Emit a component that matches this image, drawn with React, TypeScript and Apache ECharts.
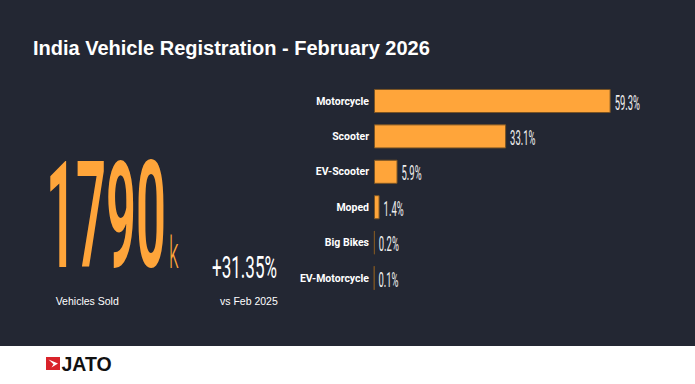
import React, { useEffect, useRef } from "react";
import * as echarts from "echarts";

const title = "India Vehicle Registration - February 2026";
const categories = ["Motorcycle", "Scooter", "EV-Scooter", "Moped", "Big Bikes", "EV-Motorcycle"];
const shares = [59.3, 33.1, 5.9, 1.4, 0.2, 0.1];
const totalSold = "1790";
const totalUnit = "k";
const totalCaption = "Vehicles Sold";
const growth = "+31.35%";
const growthCaption = "vs Feb 2025";
const brand = "JATO";

const BG = "#232733";
const ORANGE = "#FFA53A";

export default function App() {
  const ref = useRef<HTMLDivElement>(null);
  useEffect(() => {
    document.body.style.margin = "0";
    const chart = echarts.init(ref.current!, null, { renderer: "svg" });
    chart.setOption({
      animation: false,
      backgroundColor: BG,
      grid: { left: 374, right: 61.6, top: 83.3, bottom: 88.3, containLabel: false },
      xAxis: {
        type: "value",
        min: 0,
        max: 65,
        show: false,
      },
      yAxis: {
        type: "category",
        data: categories,
        inverse: true,
        axisLine: { show: false },
        axisTick: { show: false },
        splitLine: { show: false },
        axisLabel: {
          color: "#ffffff",
          fontFamily: "Roboto",
          fontWeight: "bold",
          fontSize: 10.5,
          margin: 5,
        },
      },
      series: [
        {
          type: "bar",
          data: shares,
          barCategoryGap: "32%",
          barMinWidth: 1,
          itemStyle: { color: ORANGE, borderColor: "#7a5424", borderWidth: 1 },
        },
        {
          type: "custom",
          data: shares.map((v, i) => [v, i]),
          encode: { x: 0, y: 1 },
          renderItem: (params: any, api: any) => {
            const v = api.value(0);
            const p = api.coord([v, api.value(1)]);
            return {
              type: "text",
              x: p[0] + 4,
              y: p[1] + 1.5,
              scaleX: 0.45,
              style: {
                text: `${v}%`,
                fill: "#eeeeee",
                font: "400 21px Roboto",
                align: "left",
                verticalAlign: "middle",
              },
            };
          },
        },
      ],
      graphic: [
        {
          type: "text",
          x: 33,
          y: 47.5,
          style: {
            text: title,
            fill: "#ffffff",
            font: "bold 20px 'Liberation Sans', Arial, sans-serif",
            verticalAlign: "middle",
            align: "left",
          },
        },
        {
          type: "text",
          x: 46,
          y: 216.5,
          scaleX: 0.355,
          style: {
            text: totalSold,
            fill: ORANGE,
            font: "600 148px Roboto",
            verticalAlign: "middle",
            align: "left",
          },
        },
        {
          type: "text",
          x: 169,
          y: 252.5,
          scaleX: 0.43,
          style: {
            text: totalUnit,
            fill: ORANGE,
            font: "300 45px Roboto",
            verticalAlign: "middle",
            align: "left",
          },
        },
        {
          type: "text",
          x: 212,
          y: 267,
          scaleX: 0.55,
          style: {
            text: growth,
            fill: "#ffffff",
            font: "400 31px Roboto",
            verticalAlign: "middle",
            align: "left",
          },
        },
        {
          type: "text",
          x: 55.7,
          y: 301,
          style: {
            text: totalCaption,
            fill: "#ffffff",
            font: "10.5px 'Liberation Sans', Arial, sans-serif",
            verticalAlign: "middle",
            align: "left",
          },
        },
        {
          type: "text",
          x: 220,
          y: 301,
          style: {
            text: growthCaption,
            fill: "#ffffff",
            font: "10.5px 'Liberation Sans', Arial, sans-serif",
            verticalAlign: "middle",
            align: "left",
          },
        },
        {
          type: "rect",
          shape: { x: 0, y: 346, width: 695, height: 38 },
          style: { fill: "#ffffff" },
        },
        {
          type: "rect",
          shape: { x: 46, y: 357, width: 14, height: 13 },
          style: { fill: "#d9232a" },
        },
        {
          type: "polygon",
          shape: { points: [[48.5, 359.5], [58, 363.5], [51.5, 367.5], [53.5, 364.2]] },
          style: { fill: "#ffffff" },
        },
        {
          type: "text",
          x: 61.5,
          y: 364,
          style: {
            text: brand,
            fill: "#111111",
            font: "bold 19.5px 'Liberation Sans', Arial, sans-serif",
            verticalAlign: "middle",
            align: "left",
          },
        },
      ],
    });
    return () => chart.dispose();
  }, []);
  return (
    <div
      ref={ref}
      style={{ position: "fixed", left: 0, top: 0, width: 695, height: 384 }}
    />
  );
}
